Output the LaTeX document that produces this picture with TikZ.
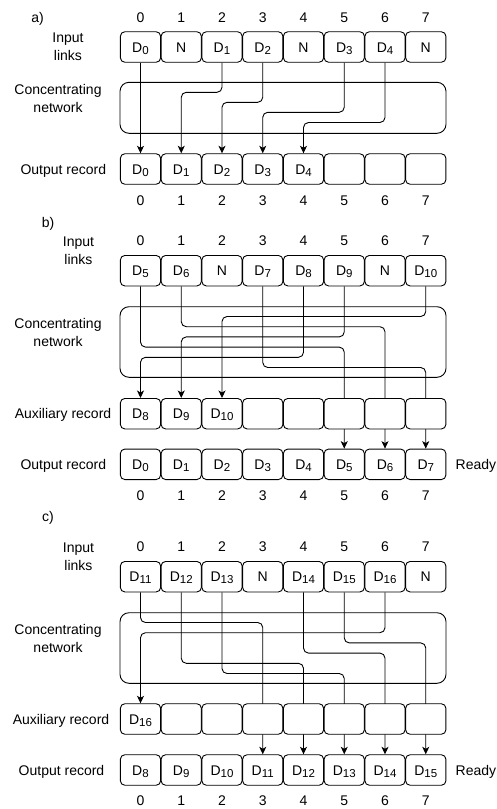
\documentclass[tikz,border=0pt]{standalone}
\usepackage{fontspec}
\setmainfont{Liberation Sans}
\usetikzlibrary{arrows.meta,backgrounds}
\newcommand\Dsub[1]{D\raisebox{-2.2pt}{\fontsize{11.5}{11.5}\selectfont #1}}
\newcommand\cellrow[3]{%
  \foreach \t [count=\i from 0] in {#3} {\node[cell] (#1-\i) at ({140.5+40.75*\i},#2) {\t};}}
\newcommand\idxrow[2]{%
  \foreach \i in {0,...,7} {\node[idx] (#1-\i) at ({140.5+40.75*\i},#2) {\i};}}
\newcommand\wire[3]{\draw[arr] (#1.south) -- (#1.south |- 0,#3) -- (#2.north |- 0,#3) -- (#2.north);}
\begin{document}
\begin{tikzpicture}[x=1pt,y=-1pt,
  every node/.style={font=\fontsize{14}{18}\selectfont, inner sep=0pt},
  cell/.style={draw, line width=0.9pt, rounded corners=4.5pt, fill=white,
    minimum width=40.3pt, minimum height=30.5pt, text height=10pt, text depth=0pt},
  netbox/.style={draw, line width=0.9pt, rounded corners=9pt, minimum width=326pt},
  arr/.style={line width=0.9pt, rounded corners=5pt, -{Stealth[length=7.5pt,width=7pt,inset=2pt]}},
  idx/.style={text height=10pt, text depth=0pt},
  lbl/.style={align=center},
  one/.style={text height=10pt, text depth=0pt},
]
\useasboundingbox (0,0) rectangle (496,809);

% ---------------- panel a ----------------
\node[one] (a-title) at (37.5,17) {a)};
\idxrow{a-top}{17}
\node[lbl] (a-inlbl) at (68,47) {Input\\links};
\cellrow{a-in}{47}{{\Dsub{0}},N,{\Dsub{1}},{\Dsub{2}},N,{\Dsub{3}},{\Dsub{4}},N}
\node[lbl] (a-netlbl) at (58,98) {Concentrating\\network};
\node[one] (a-outlbl) at (63.3,169) {Output record};
\cellrow{a-out}{169}{{\Dsub{0}},{\Dsub{1}},{\Dsub{2}},{\Dsub{3}},{\Dsub{4}},{},{},{}}
\idxrow{a-bot}{200}
\begin{pgfonlayer}{background}
\node[netbox, minimum height=51pt] (a-net) at (283,107.8) {};
\draw[arr] (a-in-0.south) -- (a-out-0.north);
\wire{a-in-2}{a-out-1}{92.3}
\wire{a-in-3}{a-out-2}{102.3}
\wire{a-in-5}{a-out-3}{112.3}
\wire{a-in-6}{a-out-4}{122.5}
\end{pgfonlayer}

% ---------------- panel b ----------------
\node[one] (b-title) at (48,222) {b)};
\idxrow{b-top}{240}
\node[lbl] (b-inlbl) at (78.5,251) {Input\\links};
\cellrow{b-in}{270.7}{{\Dsub{5}},{\Dsub{6}},N,{\Dsub{7}},{\Dsub{8}},{\Dsub{9}},N,{\Dsub{10}}}
\node[lbl] (b-netlbl) at (58,332.5) {Concentrating\\network};
\node[one] (b-auxlbl) at (63,413.7) {Auxiliary record};
\cellrow{b-aux}{413.7}{{\Dsub{8}},{\Dsub{9}},{\Dsub{10}},{},{},{},{},{}}
\node[one] (b-outlbl) at (63.3,464.3) {Output record};
\cellrow{b-out}{464.3}{{\Dsub{0}},{\Dsub{1}},{\Dsub{2}},{\Dsub{3}},{\Dsub{4}},{\Dsub{5}},{\Dsub{6}},{\Dsub{7}}}
\node[one, anchor=west] (b-ready) at (455.5,464.3) {Ready};
\idxrow{b-bot}{495}
\begin{pgfonlayer}{background}
\node[netbox, minimum height=70.6pt] (b-net) at (283,342) {};
\wire{b-in-7}{b-aux-2}{316.5}
\wire{b-in-1}{b-out-6}{326.7}
\wire{b-in-5}{b-aux-1}{336.9}
\wire{b-in-0}{b-out-5}{347.1}
\wire{b-in-4}{b-aux-0}{357.3}
\wire{b-in-3}{b-out-7}{367.5}
\end{pgfonlayer}

% ---------------- panel c ----------------
\node[one] (c-title) at (48,516.7) {c)};
\idxrow{c-top}{546.7}
\node[lbl] (c-inlbl) at (78.5,557) {Input\\links};
\cellrow{c-in}{576.7}{{\Dsub{11}},{\Dsub{12}},{\Dsub{13}},N,{\Dsub{14}},{\Dsub{15}},{\Dsub{16}},N}
\node[lbl] (c-netlbl) at (58,638.3) {Concentrating\\network};
\node[one] (c-auxlbl) at (61,719) {Auxiliary record};
\cellrow{c-aux}{719}{{\Dsub{16}},{},{},{},{},{},{},{}}
\node[one] (c-outlbl) at (61.5,770) {Output record};
\cellrow{c-out}{770}{{\Dsub{8}},{\Dsub{9}},{\Dsub{10}},{\Dsub{11}},{\Dsub{12}},{\Dsub{13}},{\Dsub{14}},{\Dsub{15}}}
\node[one, anchor=west] (c-ready) at (455.5,770) {Ready};
\idxrow{c-bot}{800}
\begin{pgfonlayer}{background}
\node[netbox, minimum height=70.6pt] (c-net) at (283,648) {};
\wire{c-in-0}{c-out-3}{622.5}
\wire{c-in-6}{c-aux-0}{632.7}
\wire{c-in-5}{c-out-7}{642.9}
\wire{c-in-4}{c-out-6}{653.1}
\wire{c-in-1}{c-out-4}{663.3}
\wire{c-in-2}{c-out-5}{673.5}
\end{pgfonlayer}
\end{tikzpicture}
\end{document}
